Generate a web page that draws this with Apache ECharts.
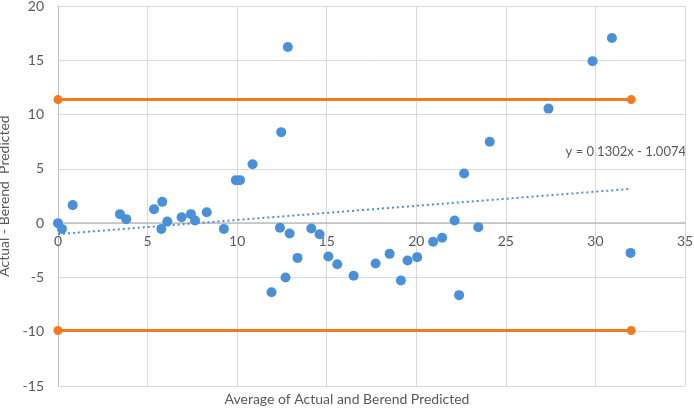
<!DOCTYPE html>
<html>
<head>
<meta charset="utf-8">
<script src="https://cdn.jsdelivr.net/npm/echarts@6/dist/echarts.min.js"></script>
<style>
  html, body { margin: 0; padding: 0; background: #fff; }
  #chart { width: 694px; height: 410px; }
</style>
</head>
<body>
<div id="chart"></div>
<script>
// average of actual and predicted (x) / difference (y)
var avgValues = [0, 0.22, 0.82, 3.46, 3.81, 5.36, 5.82, 5.77, 6.1, 6.9, 7.42, 7.65, 8.3, 9.26,
  9.93, 10.16, 10.86, 11.92, 12.39, 12.46, 12.7, 12.83, 12.93, 13.37, 14.14, 14.6, 15.09,
  15.59, 16.5, 17.73, 18.51, 19.14, 19.51, 20.05, 20.94, 21.44, 22.14, 22.39, 22.67, 23.46,
  24.1, 27.38, 29.84, 30.92, 31.96];
var diffValues = [0, -0.53, 1.66, 0.83, 0.37, 1.29, 1.96, -0.53, 0.15, 0.55, 0.83, 0.24, 1.01, -0.53,
  3.96, 3.96, 5.43, -6.36, -0.43, 8.38, -5.0, 16.23, -0.96, -3.2, -0.49, -1.02, -3.07,
  -3.78, -4.85, -3.72, -2.83, -5.28, -3.44, -3.13, -1.72, -1.35, 0.24, -6.63, 4.57, -0.37,
  7.49, 10.55, 14.92, 17.06, -2.74];

// limits of agreement (orange lines)
var limitX = [0, 32];
var upperLimit = [11.38, 11.38];
var lowerLimit = [-9.89, -9.89];

// linear trendline endpoints
var trendX = [0, 32];
var trendY = [-1.01, 3.16];
var trendLabel = 'y = 0.1302x - 1.0074';

var xTicks = { min: 0, max: 35, interval: 5 };
var yTicks = { min: -15, max: 20, interval: 5 };

var font = 'Lato, "Open Sans", sans-serif';
var textColor = '#595959';
var blue = '#4a90d9';
var orange = '#f47a20';

function pairs(xs, ys) {
  return xs.map(function (x, i) { return [x, ys[i]]; });
}

var chart = echarts.init(document.getElementById('chart'));
chart.setOption({
  animation: false,
  grid: { left: 58, right: 9, top: 6, bottom: 24, containLabel: false, outerBoundsMode: 'none' },
  xAxis: {
    type: 'value',
    min: xTicks.min, max: xTicks.max, interval: xTicks.interval,
    axisLine: { show: true, onZero: false, lineStyle: { color: '#bfbfbf', width: 1.5 } },
    axisTick: { show: false },
    axisLabel: { color: textColor, fontFamily: font, fontSize: 14, margin: 11 },
    splitLine: { show: true, lineStyle: { color: '#d9d9d9', width: 1 } }
  },
  yAxis: {
    type: 'value',
    min: yTicks.min, max: yTicks.max, interval: yTicks.interval,
    name: 'Actual - Berend  Predicted',
    nameLocation: 'middle',
    nameGap: 45,
    nameTextStyle: { color: textColor, fontFamily: font, fontSize: 14 },
    axisLine: { show: true, onZero: false, lineStyle: { color: '#bfbfbf', width: 1 } },
    axisTick: { show: false },
    axisLabel: { color: textColor, fontFamily: font, fontSize: 14, margin: 14 },
    splitLine: { show: true, lineStyle: { color: '#d9d9d9', width: 1 } }
  },
  graphic: [
    {
      type: 'text', left: 'center', top: 392,
      style: { text: 'Average of Actual and Berend Predicted', fill: textColor, font: '14px ' + font }
    },
    {
      type: 'text', right: 8, top: 145,
      style: { text: trendLabel, fill: textColor, font: '13px ' + font }
    }
  ],
  series: [
    {
      type: 'line',
      data: pairs(trendX, trendY),
      symbol: 'none',
      lineStyle: { color: blue, width: 2, type: [2, 3] },
      z: 3
    },
    {
      type: 'line',
      data: pairs(limitX, upperLimit),
      symbol: 'circle', symbolSize: 9,
      itemStyle: { color: orange },
      lineStyle: { color: orange, width: 3 },
      z: 4
    },
    {
      type: 'line',
      data: pairs(limitX, lowerLimit),
      symbol: 'circle', symbolSize: 9,
      itemStyle: { color: orange },
      lineStyle: { color: orange, width: 3 },
      z: 4
    },
    {
      type: 'scatter',
      data: pairs(avgValues, diffValues),
      symbolSize: 10,
      itemStyle: { color: blue, opacity: 1 },
      z: 5
    }
  ]
});

// move the x axis (line + labels) up to y = 0, as in the original
var zeroY = chart.convertToPixel({ yAxisIndex: 0 }, 0);
var bottomY = chart.convertToPixel({ yAxisIndex: 0 }, yTicks.min);
chart.setOption({ xAxis: { offset: zeroY - bottomY } });
</script>
</body>
</html>
